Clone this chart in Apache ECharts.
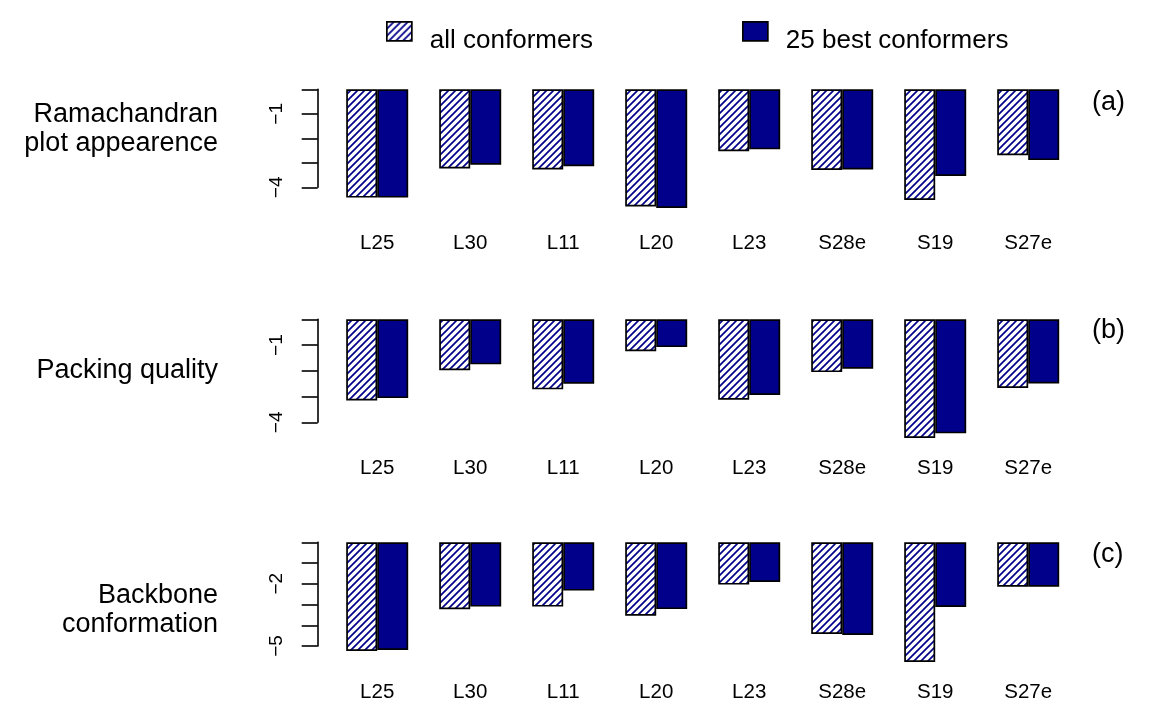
<!DOCTYPE html>
<html><head><meta charset="utf-8">
<script src="https://cdn.jsdelivr.net/npm/echarts@6/dist/echarts.min.js"></script>
<style>html,body{margin:0;padding:0;background:#fff}#c{width:1157px;height:720px}</style>
</head><body><div id="c"></div>
<script>
const categories = ['L25','L30','L11','L20','L23','S28e','S19','S27e'];
const seriesNames = ['all conformers','25 best conformers'];
const ramaAll  = [-4.42,-3.23,-3.27,-4.78,-2.53,-3.29,-4.52,-2.69];
const ramaBest = [-4.42,-3.08,-3.14,-4.84,-2.45,-3.27,-3.54,-2.89];
const packAll  = [-3.15,-1.98,-2.72,-1.24,-3.12,-2.05,-4.61,-2.67];
const packBest = [-3.06,-1.75,-2.50,-1.08,-2.94,-1.92,-4.43,-2.49];
const bbAll    = [-5.24,-3.23,-3.10,-3.54,-2.04,-4.42,-5.77,-2.14];
const bbBest   = [-5.19,-3.10,-2.33,-3.22,-1.91,-4.47,-3.12,-2.14];
const panelTitles = ['Ramachandran\nplot appearence','Packing quality','Backbone\nconformation'];
const panelTags = ['(a)','(b)','(c)'];
const yMins = [-4,-4,-5];
const yTickLabels = [[-1,-4],[-1,-4],[-2,-5]];

const FONT = 'Liberation Sans';
const NAVY = '#00008B';
const panels = [[ramaAll, ramaBest],[packAll, packBest],[bbAll, bbBest]];
const gridTops = [89.3, 319.3, 542.3];
const gridHeights = [98, 103, 103.7];
const xLabelMargins = [46, 36, 36];
const titleY = [129, 371, 610];
const tagY = [103, 331, 555];

function hatch(){
  const s = 7, c = document.createElement('canvas');
  c.width = c.height = s;
  const g = c.getContext('2d');
  g.fillStyle = '#fff'; g.fillRect(0,0,s,s);
  g.strokeStyle = NAVY; g.lineWidth = 1.7;
  g.beginPath();
  g.moveTo(-1, s+1); g.lineTo(s+1, -1);
  g.moveTo(-1, 1); g.lineTo(1, -1);
  g.moveTo(s-1, s+1); g.lineTo(s+1, s-1);
  g.stroke();
  return c;
}
const hatchFill = {image: hatch(), repeat: 'repeat'};

const grid = [], xAxis = [], yAxis = [], series = [], graphic = [];
panels.forEach((p, i) => {
  grid.push({left: 330.7, width: 744, top: gridTops[i], height: gridHeights[i]});
  xAxis.push({type:'category', gridIndex:i, data:categories,
    axisLine:{show:false}, axisTick:{show:false}, splitLine:{show:false},
    axisLabel:{margin:xLabelMargins[i], fontSize:20.5, color:'#000', fontFamily:FONT, interval:0}});
  yAxis.push({type:'value', gridIndex:i, min:yMins[i], max:0, interval:1, offset:13,
    splitLine:{show:false},
    axisLine:{show:true, lineStyle:{color:'#000', width:1.6}},
    axisTick:{show:true, length:16, lineStyle:{color:'#000', width:1.6}},
    axisLabel:{rotate:90, margin:31, fontSize:19, color:'#000', fontFamily:FONT,
      formatter: v => yTickLabels[i].includes(v) ? '\u2212' + Math.abs(v) : ''}});
  p.forEach((d, k) => {
    series.push({type:'bar', name:seriesNames[k], data:d, xAxisIndex:i, yAxisIndex:i,
      barGap:'0%', barCategoryGap:'33.333%', clip:false, silent:true,
      itemStyle:{color: k === 0 ? hatchFill : NAVY, borderColor:'#000', borderWidth:1.7}});
  });
  graphic.push({type:'text', x: 218, y: titleY[i], style:{text: panelTitles[i], fontSize:27, fontFamily:FONT, fill:'#000', align:'right', verticalAlign:'middle', lineHeight:29}});
  graphic.push({type:'text', x:1092, y:tagY[i], style:{text: panelTags[i], fontSize:27, fontFamily:FONT, fill:'#000', align:'left', verticalAlign:'middle'}});
});

const legendCommon = {padding:0, itemWidth:25, itemHeight:19, selectedMode:false, top:8.8, icon:'rect',
  formatter: name => '\n' + name,
  itemStyle:{borderColor:'#000', borderWidth:1.7},
  textStyle:{fontSize:26, lineHeight:19, color:'#000', fontFamily:FONT, padding:[0,0,0,13]}};

const chart = echarts.init(document.getElementById('c'), null, {renderer:'canvas'});
chart.setOption({
  animation:false,
  backgroundColor:'#fff',
  legend:[Object.assign({data:[seriesNames[0]], left:386}, legendCommon),
          Object.assign({data:[seriesNames[1]], left:742}, legendCommon)],
  grid, xAxis, yAxis, series, graphic
});
</script></body></html>
